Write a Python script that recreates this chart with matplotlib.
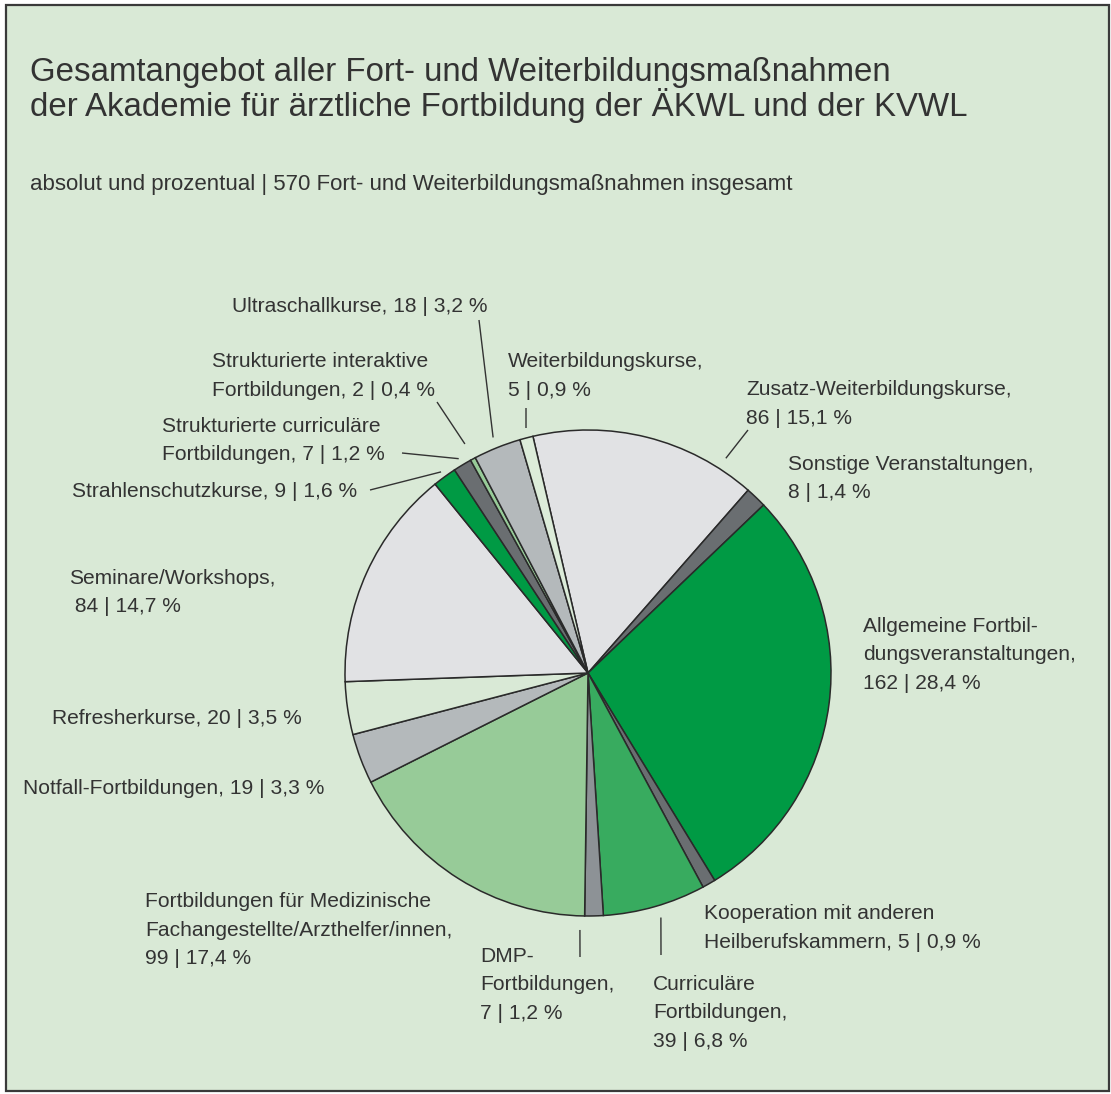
import numpy as np
import matplotlib.pyplot as plt
from matplotlib.patches import Rectangle

plt.rcParams['font.family'] = ['Liberation Sans', 'DejaVu Sans']

# Data
TOTAL = 570
categories = ["Zusatz-Weiterbildungskurse", "Sonstige Veranstaltungen",
              "Allgemeine Fortbildungsveranstaltungen", "Kooperation mit anderen Heilberufskammern",
              "Curriculäre Fortbildungen", "DMP-Fortbildungen",
              "Fortbildungen für Medizinische Fachangestellte/Arzthelfer/innen",
              "Notfall-Fortbildungen", "Refresherkurse", "Seminare/Workshops",
              "Strahlenschutzkurse", "Strukturierte curriculäre Fortbildungen",
              "Strukturierte interaktive Fortbildungen", "Ultraschallkurse",
              "Weiterbildungskurse"]
counts = [86, 8, 162, 5, 39, 7, 99, 19, 20, 84, 9, 7, 2, 18, 5]

# how each label is wrapped, {v} = "count | percent %"
label_lines = [
    ["Zusatz-Weiterbildungskurse,", "{v}"],
    ["Sonstige Veranstaltungen,", "{v}"],
    ["Allgemeine Fortbil-", "dungsveranstaltungen,", "{v}"],
    ["Kooperation mit anderen", "Heilberufskammern, {v}"],
    ["Curriculäre", "Fortbildungen,", "{v}"],
    ["DMP-", "Fortbildungen,", "{v}"],
    ["Fortbildungen für Medizinische", "Fachangestellte/Arzthelfer/innen,", "{v}"],
    ["Notfall-Fortbildungen, {v}"],
    ["Refresherkurse, {v}"],
    ["Seminare/Workshops,", " {v}"],
    ["Strahlenschutzkurse, {v}"],
    ["Strukturierte curriculäre", "Fortbildungen, {v}"],
    ["Strukturierte interaktive", "Fortbildungen, {v}"],
    ["Ultraschallkurse, {v}"],
    ["Weiterbildungskurse,", "{v}"],
]

# Styling
BG = "#d9e9d6"
LIGHTGRAY = "#e1e2e4"
DARKGRAY = "#6a6e71"
GREEN = "#009a44"
MIDGREEN = "#38ab5f"
DMPGRAY = "#8d9296"
LIGHTGREEN = "#97cb98"
MIDGRAY = "#b4b9bb"
PALE = "#dcecd9"
colors = [LIGHTGRAY, DARKGRAY, GREEN, DARKGRAY, MIDGREEN, DMPGRAY, LIGHTGREEN,
          MIDGRAY, BG, LIGHTGRAY, GREEN, DARKGRAY, LIGHTGREEN, MIDGRAY, PALE]
TEXT = "#333333"

W, H = 1111, 1094
CX, CY, R = 588, 673, 243  # pixel coords, y from top
LINE_H = 28.5

# label anchors: left x, first baseline y (pixels from top)
label_pos = [(746, 395), (788, 470), (863, 632), (704, 919), (653, 990),
             (480, 962), (145, 907), (23, 794), (52, 724), (69, 584),
             (72, 497), (162, 432), (212, 367), (232, 312), (508, 367)]

# leader lines: slice index, angle override, radius factor, outer end (px)
leaders = [(13, None, 1.045, (479, 320)),
           (12, None, 1.07, (437, 402)),
           (11, None, 1.03, (402, 453)),
           (10, None, 1.025, (370, 490)),
           (14, 104.2, 1.04, (526, 408)),
           (0, 57.3, 1.05, (748, 430)),
           (5, 268.2, 1.058, (580, 957)),
           (4, -73.4, 1.05, (661, 955))]


def fy(y):
    # pixel row from top -> data y
    return H - y


fig = plt.figure(figsize=(W / 100, H / 100), dpi=100)
fig.patch.set_facecolor("white")
ax = fig.add_axes([0, 0, 1, 1])

ax.add_patch(Rectangle((5.5, fy(1091)), 1103, 1086, facecolor=BG,
                       edgecolor="#3a3a3a", linewidth=1.6, zorder=0))

wedges, _ = ax.pie(counts, colors=colors, startangle=103.1, counterclock=False,
                   center=(CX, fy(CY)), radius=R,
                   wedgeprops=dict(edgecolor="#2a2a2a", linewidth=1.1))
ax.set_xlim(0, W)
ax.set_ylim(0, H)
ax.set_aspect("equal")
ax.axis("off")

# labels
for i, lines in enumerate(label_lines):
    pct = f"{counts[i] / TOTAL * 100:.1f}".replace(".", ",")
    v = f"{counts[i]} | {pct} %"
    x, y = label_pos[i]
    for k, line in enumerate(lines):
        ax.text(x, fy(y + k * LINE_H), line.format(v=v), fontsize=15.1,
                color=TEXT, ha="left", va="baseline")

# leaders
for i, ang, rf, (ex, ey) in leaders:
    w = wedges[i]
    if ang is None:
        ang = (w.theta1 + w.theta2) / 2
    a = np.deg2rad(ang)
    sx = CX + R * rf * np.cos(a)
    sy = fy(CY) + R * rf * np.sin(a)
    ax.plot([sx, ex], [sy, fy(ey)], color="#333333", lw=1.0, solid_capstyle="butt")

# title + subtitle
ax.text(30, fy(81), "Gesamtangebot aller Fort- und Weiterbildungsmaßnahmen",
        fontsize=23.8, color=TEXT, ha="left", va="baseline")
ax.text(30, fy(116), "der Akademie für ärztliche Fortbildung der ÄKWL und der KVWL",
        fontsize=23.8, color=TEXT, ha="left", va="baseline")
ax.text(30, fy(190), "absolut und prozentual | 570 Fort- und Weiterbildungsmaßnahmen insgesamt",
        fontsize=16, color=TEXT, ha="left", va="baseline")

fig.savefig("out.png", dpi=100, facecolor=fig.get_facecolor())
